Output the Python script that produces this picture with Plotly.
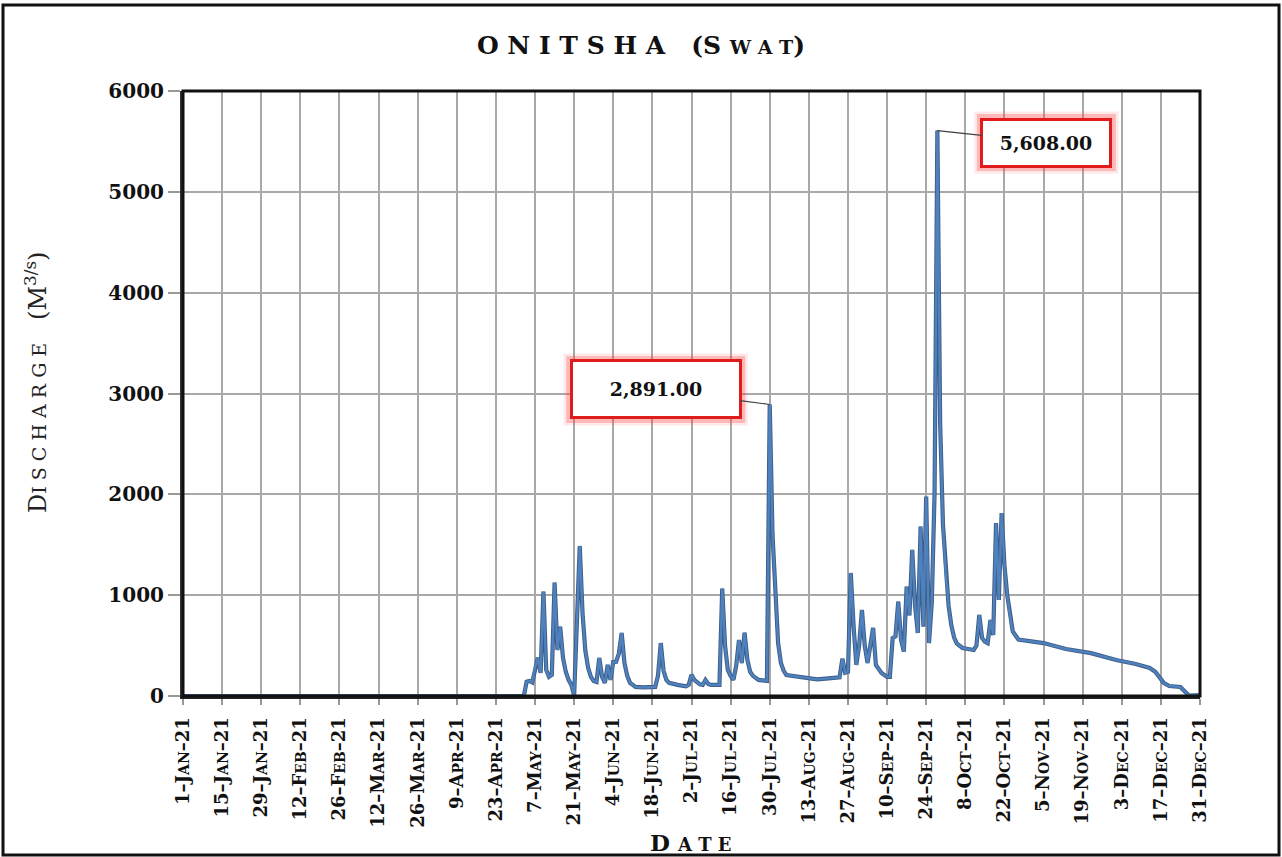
import plotly.graph_objects as go

# ---------------- data ----------------
dates = [
    "2021-01-01", "2021-05-03", "2021-05-04", "2021-05-05", "2021-05-06", "2021-05-07",
    "2021-05-08", "2021-05-09", "2021-05-10", "2021-05-11", "2021-05-12", "2021-05-13",
    "2021-05-14", "2021-05-15", "2021-05-16", "2021-05-17", "2021-05-18", "2021-05-19",
    "2021-05-20", "2021-05-21", "2021-05-23", "2021-05-24", "2021-05-25", "2021-05-26",
    "2021-05-27", "2021-05-28", "2021-05-29", "2021-05-30", "2021-05-31", "2021-06-01",
    "2021-06-02", "2021-06-03", "2021-06-04", "2021-06-05", "2021-06-06", "2021-06-07",
    "2021-06-08", "2021-06-09", "2021-06-10", "2021-06-12", "2021-06-15", "2021-06-19",
    "2021-06-20", "2021-06-21", "2021-06-22", "2021-06-23", "2021-06-24", "2021-06-27",
    "2021-06-30", "2021-07-01", "2021-07-02", "2021-07-03", "2021-07-04", "2021-07-05",
    "2021-07-06", "2021-07-07", "2021-07-08", "2021-07-09", "2021-07-12", "2021-07-13",
    "2021-07-14", "2021-07-15", "2021-07-16", "2021-07-17", "2021-07-18", "2021-07-19",
    "2021-07-20", "2021-07-21", "2021-07-22", "2021-07-23", "2021-07-24", "2021-07-26",
    "2021-07-29", "2021-07-30", "2021-07-31", "2021-08-01", "2021-08-02", "2021-08-03",
    "2021-08-04", "2021-08-05", "2021-08-10", "2021-08-16", "2021-08-20", "2021-08-24",
    "2021-08-25", "2021-08-26", "2021-08-27", "2021-08-28", "2021-08-29", "2021-08-30",
    "2021-08-31", "2021-09-01", "2021-09-02", "2021-09-03", "2021-09-04", "2021-09-05",
    "2021-09-06", "2021-09-08", "2021-09-10", "2021-09-11", "2021-09-12", "2021-09-13",
    "2021-09-14", "2021-09-15", "2021-09-16", "2021-09-17", "2021-09-18", "2021-09-19",
    "2021-09-20", "2021-09-21", "2021-09-22", "2021-09-23", "2021-09-24", "2021-09-25",
    "2021-09-26", "2021-09-27", "2021-09-28", "2021-09-29", "2021-09-30", "2021-10-01",
    "2021-10-02", "2021-10-03", "2021-10-04", "2021-10-05", "2021-10-07", "2021-10-11",
    "2021-10-12", "2021-10-13", "2021-10-14", "2021-10-15", "2021-10-16", "2021-10-17",
    "2021-10-18", "2021-10-19", "2021-10-20", "2021-10-21", "2021-10-22", "2021-10-23",
    "2021-10-24", "2021-10-25", "2021-10-27", "2021-11-05", "2021-11-13", "2021-11-22",
    "2021-12-01", "2021-12-08", "2021-12-13", "2021-12-15", "2021-12-18", "2021-12-20",
    "2021-12-24", "2021-12-26", "2021-12-27", "2021-12-31",
]
discharge = [
    0, 0, 142, 150, 135, 280,
    380, 230, 1035, 260, 190, 210,
    1124, 456, 688, 380, 240, 160,
    110, 5, 1488, 820, 450, 280,
    190, 150, 140, 377, 190, 130,
    308, 160, 337, 340, 420, 625,
    327, 200, 130, 90, 85, 90,
    200, 525, 250, 160, 130, 110,
    95, 110, 210, 160, 140, 115,
    110, 160, 120, 110, 110, 1065,
    500, 258, 200, 160, 300, 555,
    327, 628, 357, 240, 200, 160,
    150, 2891, 1600, 985, 525, 327,
    250, 208, 190, 165, 175, 185,
    370, 230, 240, 1220, 700, 308,
    500, 853, 500, 327, 500, 675,
    308, 228, 190, 190, 575, 590,
    936, 555, 440, 1085, 800, 1450,
    900, 625, 1680, 688, 1977, 525,
    925, 2010, 5608, 2700, 1700, 1220,
    900, 700, 580, 520, 476, 456,
    500, 804, 575, 540, 525, 754,
    605, 1716, 952, 1815, 1300, 1000,
    800, 640, 560, 525, 466, 425,
    357, 318, 278, 240, 130, 99,
    89, 30, 5, 10,
]

tick_dates = [
    "2021-01-01", "2021-01-15", "2021-01-29", "2021-02-12", "2021-02-26", "2021-03-12",
    "2021-03-26", "2021-04-09", "2021-04-23", "2021-05-07", "2021-05-21", "2021-06-04",
    "2021-06-18", "2021-07-02", "2021-07-16", "2021-07-30", "2021-08-13", "2021-08-27",
    "2021-09-10", "2021-09-24", "2021-10-08", "2021-10-22", "2021-11-05", "2021-11-19",
    "2021-12-03", "2021-12-17", "2021-12-31",
]
tick_labels = [
    "1-Jan-21", "15-Jan-21", "29-Jan-21", "12-Feb-21", "26-Feb-21", "12-Mar-21",
    "26-Mar-21", "9-Apr-21", "23-Apr-21", "7-May-21", "21-May-21", "4-Jun-21",
    "18-Jun-21", "2-Jul-21", "16-Jul-21", "30-Jul-21", "13-Aug-21", "27-Aug-21",
    "10-Sep-21", "24-Sep-21", "8-Oct-21", "22-Oct-21", "5-Nov-21", "19-Nov-21",
    "3-Dec-21", "17-Dec-21", "31-Dec-21",
]
y_ticks = [0, 1000, 2000, 3000, 4000, 5000, 6000]
labelled_dates = ["2021-07-30", "2021-09-28"]

# ---------------- styling helpers ----------------
SERIF = "DejaVu Serif"
NB = "\u00a0"


def sc_tick(label):
    day, mon, yr = label.split("-")
    return f"{day}–{mon[0]}<span style='font-size:14px'>{mon[1:].upper()}</span>–{yr}"


fig = go.Figure()
fig.add_trace(go.Scatter(x=dates, y=discharge, mode="lines",
                         line=dict(color="#3d5d88", width=4.2),
                         hoverinfo="skip", showlegend=False))
fig.add_trace(go.Scatter(x=dates, y=discharge, mode="lines",
                         line=dict(color="#4f81bd", width=2.4),
                         showlegend=False))

L, R, T, B = 183, 82, 91, 161
PW, PH = 1282 - L - R, 857 - T - B


def px2paper(px, py):
    return (px - L) / PW, (857 - B - py) / PH


fig.update_layout(
    width=1282, height=857,
    margin=dict(l=L, r=R, t=T, b=B),
    paper_bgcolor="white", plot_bgcolor="white",
    showlegend=False,
    title=dict(
        text=NB.join("ONITSHA") + NB * 3 + "(S" + NB
        + "<span style='font-size:19px'>" + NB.join("WAT") + "</span>)",
        x=0.5, xref="container", xanchor="center",
        y=1 - 45 / 857, yref="container", yanchor="middle",
        font=dict(family=SERIF, size=25, color="#111", weight="bold"),
    ),
    xaxis=dict(
        type="date", range=["2021-01-01", "2021-12-31"],
        tickmode="array", tickvals=tick_dates,
        ticktext=[sc_tick(t) for t in tick_labels],
        tickangle=-90, ticklabelstandoff=5,
        tickfont=dict(family=SERIF, size=18, color="#111", weight="bold"),
        showgrid=True, gridcolor="#a8a8a8", gridwidth=1.6,
        ticks="outside", ticklen=6, tickcolor="#999", tickwidth=1.5,
        showline=True, linecolor="#222", linewidth=3,
        zeroline=False,
    ),
    yaxis=dict(
        range=[0, 6000], tickmode="array", tickvals=y_ticks,
        ticktext=[str(v) for v in y_ticks],
        tickfont=dict(family=SERIF, size=20, color="#111", weight="bold"),
        showgrid=True, gridcolor="#a8a8a8", gridwidth=1.6,
        ticks="outside", ticklen=12, tickcolor="#999", tickwidth=1.5,
        showline=True, linecolor="#333", linewidth=3,
        zeroline=False,
    ),
)

# plot-area frame and outer picture frame
fig.add_shape(type="rect", xref="paper", yref="paper", x0=0, y0=0, x1=1, y1=1,
              line=dict(color="#111", width=3), layer="above")
ox0, oy0 = px2paper(3, 855)
ox1, oy1 = px2paper(1279, 5)
fig.add_shape(type="rect", xref="paper", yref="paper", x0=ox0, y0=oy0, x1=ox1, y1=oy1,
              line=dict(color="#111", width=3), layer="above")

# axis titles
yx, yy = px2paper(36, 383)
fig.add_annotation(
    xref="paper", yref="paper", x=yx, y=yy, xanchor="center", yanchor="middle",
    showarrow=False, textangle=-90,
    text="D<span style='font-size:19px'>" + NB.join("ISCHARGE") + "</span>" + NB * 3
    + "(M<sup>3/s</sup>)",
    font=dict(family=SERIF, size=24, color="#222"),
)
dx, dy = px2paper(691, 842)
fig.add_annotation(
    xref="paper", yref="paper", x=dx, y=dy, xanchor="center", yanchor="middle",
    showarrow=False,
    text="D" + NB + "<span style='font-size:18px'>" + NB.join("ATE") + "</span>",
    font=dict(family=SERIF, size=23, color="#111", weight="bold"),
)

# peak call-outs (red boxes with a soft glow drawn as pixel-sized shapes)
callout_style = {
    "2021-07-30": dict(ax=-114, ay=-15, w=166, h=54),
    "2021-09-28": dict(ax=109, ay=12, w=126, h=44),
}
for d in labelled_dates:
    v = discharge[dates.index(d)]
    st = callout_style[d]
    ow, oh = st["w"] + 6, st["h"] + 6
    cx, cy = st["ax"], -st["ay"]
    for lw, col in [(12, "rgba(255,80,80,0.13)"), (7, "rgba(255,60,60,0.28)")]:
        fig.add_shape(type="rect", xref="x", yref="y", xsizemode="pixel", ysizemode="pixel",
                      xanchor=d, yanchor=v,
                      x0=cx - ow / 2, x1=cx + ow / 2, y0=cy - oh / 2, y1=cy + oh / 2,
                      line=dict(color=col, width=lw), layer="above")
    fig.add_annotation(x=d, y=v, xref="x", yref="y", text=f"{v:,.2f}", showarrow=True,
                       ax=st["ax"], ay=st["ay"], arrowcolor="#404040", arrowwidth=1.2,
                       arrowhead=0, width=st["w"], height=st["h"], borderpad=0,
                       bordercolor="#e01b1b", borderwidth=3, bgcolor="white",
                       font=dict(family=SERIF, size=19, color="#111", weight="bold"))

fig.write_html("out.html", config={"displayModeBar": False},
               post_script="document.body.style.margin='0px';")
